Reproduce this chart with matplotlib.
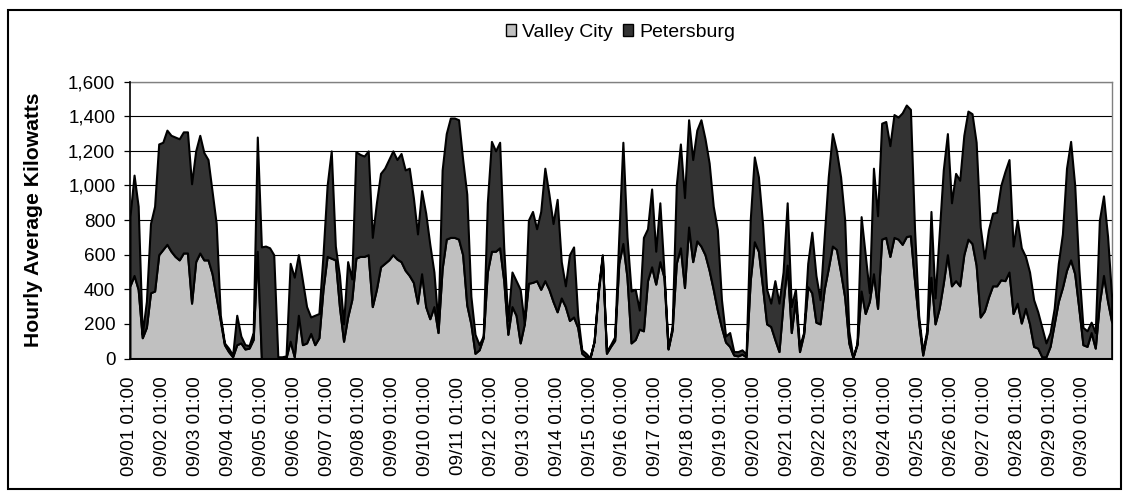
import numpy as np
import matplotlib
matplotlib.use("Agg")
import matplotlib.pyplot as plt
from matplotlib.patches import Patch, Rectangle
from matplotlib.ticker import FuncFormatter

plt.rcParams['font.family'] = ['Liberation Sans', 'DejaVu Sans']

# 3-hourly readings, one row per day (09/01 .. 09/30)
hours = np.arange(0, 720, 3)

valley_city = [
    420, 480, 400, 120, 180, 380, 390, 600,
    630, 660, 620, 590, 570, 610, 610, 320,
    560, 610, 570, 570, 490, 355, 220, 80,
    40, 10, 80, 90, 55, 60, 110, 620,
    0, 0, 0, 0, 0, 0, 5, 100,
    10, 250, 80, 90, 145, 80, 120, 400,
    590, 580, 570, 300, 100, 240, 340, 580,
    590, 590, 600, 300, 400, 530, 550, 570,
    600, 575, 560, 510, 480, 440, 320, 490,
    300, 230, 300, 150, 520, 690, 700, 700,
    690, 600, 310, 200, 30, 50, 120, 500,
    620, 620, 640, 450, 140, 300, 250, 90,
    200, 435, 440, 450, 400, 450, 400, 330,
    270, 350, 300, 220, 240, 180, 30, 10,
    5, 100, 380, 590, 30, 70, 105, 550,
    665, 470, 90, 110, 170, 160, 450, 530,
    430, 560, 470, 55, 165, 550, 640, 410,
    760, 560, 680, 650, 600, 510, 400, 280,
    180, 95, 70, 20, 15, 25, 10, 450,
    675, 620, 415, 200, 185, 110, 40, 320,
    540, 150, 340, 40, 140, 415, 380, 210,
    200, 400, 520, 650, 630, 500, 355, 90,
    5, 80, 390, 260, 330, 490, 290, 690,
    700, 590, 700, 690, 660, 705, 710, 450,
    210, 20, 145, 470, 200, 290, 435, 600,
    420, 450, 420, 600, 690, 665, 540, 240,
    275, 355, 420, 420, 455, 450, 500, 260,
    320, 205, 290, 200, 70, 60, 10, 10,
    70, 200, 330, 410, 510, 570, 490, 290,
    80, 70, 150, 60, 320, 480, 330, 210,
]

# top of the stack (Valley City + Petersburg)
stack_total = [
    820, 1060, 880, 140, 330, 780, 880, 1240,
    1250, 1320, 1290, 1280, 1270, 1310, 1310, 1010,
    1200, 1290, 1190, 1150, 965, 780, 250, 90,
    60, 20, 250, 130, 80, 75, 150, 1280,
    645, 650, 640, 600, 10, 10, 15, 550,
    470, 600, 450, 300, 240, 250, 260, 600,
    1000, 1200, 650, 480, 200, 560, 460, 1195,
    1180, 1170, 1200, 700, 900, 1070, 1100, 1150,
    1200, 1150, 1185, 1090, 1100, 930, 720, 970,
    840, 660, 500, 200, 1090, 1300, 1390, 1390,
    1380, 1150, 950, 360, 140, 80, 130, 900,
    1255, 1200, 1250, 640, 220, 500, 450, 400,
    200, 800, 850, 750, 850, 1100, 950, 780,
    920, 560, 420, 600, 645, 250, 50, 30,
    5, 100, 400, 600, 40, 80, 125, 700,
    1250, 705, 390, 400, 280, 700, 750, 980,
    620, 900, 510, 60, 185, 1000, 1240, 930,
    1380, 1150, 1320, 1380, 1270, 1130, 880, 745,
    340, 130, 150, 40, 40, 50, 25, 800,
    1165, 1050, 780, 400, 320, 450, 320, 500,
    900, 300, 400, 70, 150, 550, 730, 480,
    340, 700, 1050, 1300, 1200, 1050, 800, 160,
    5, 90, 820, 600, 380, 1100, 825, 1360,
    1370, 1230, 1410, 1395, 1420, 1465, 1440, 750,
    250, 40, 165, 850, 350, 720, 1090, 1300,
    900, 1070, 1030, 1290, 1430, 1415, 1250, 760,
    580, 745, 840, 845, 1000, 1080, 1150, 650,
    800, 640, 590, 500, 340, 270, 180, 90,
    150, 290, 550, 720, 1100, 1255, 1000, 520,
    180, 160, 210, 150, 800, 940, 705, 350,
]

series_names = ["Valley City", "Petersburg"]
day_labels = [f"09/{d:02d} 01:00" for d in range(1, 31)]

valley = np.array(valley_city)
petersburg = np.clip(np.array(stack_total) - valley, 0, None)

fig = plt.figure(figsize=(11.3, 4.93), dpi=100)
ax = fig.add_axes([0.1150, 0.2728, 0.8688, 0.5615])

colors = ["#C0C0C0", "#333333"]
ax.stackplot(hours, valley, petersburg, colors=colors,
             edgecolor="black", linewidth=1.5, zorder=3)

ax.set_xlim(0, hours[-1])
ax.set_ylim(0, 1600)
ax.set_yticks(range(0, 1601, 200))
ax.yaxis.set_major_formatter(FuncFormatter(lambda v, p: f"{int(v):,}"))
ax.grid(axis="y", color="black", linewidth=0.8, zorder=1)

ax.set_xticks(np.arange(0, 720, 24))
ax.set_xticklabels(day_labels, rotation=90, fontsize=13.6)
ax.tick_params(axis="x", length=0, pad=13)
ax.tick_params(axis="y", direction="out", length=4.5, width=0.9, pad=6,
               labelsize=13.6)

for side in ["top", "right"]:
    ax.spines[side].set_color("#808080")
    ax.spines[side].set_linewidth(1.0)
for side in ["left", "bottom"]:
    ax.spines[side].set_color("black")
    ax.spines[side].set_linewidth(1.2)
    ax.spines[side].set_zorder(5)

ax.set_ylabel("Hourly Average Kilowatts", fontsize=15.2, fontweight="bold")
ax.yaxis.set_label_coords(-0.089, 0.5)

handles = [Patch(facecolor=c, edgecolor="black", linewidth=1.0) for c in colors]
fig.legend(handles, series_names, loc="center", bbox_to_anchor=(0.549, 0.935),
           ncol=2, frameon=False, fontsize=14, handlelength=0.55,
           handleheight=0.55, handletextpad=0.3, columnspacing=0.5)

# outer chart border
fig.patches.append(Rectangle((8 / 1130, 1 - 489 / 493), 1113 / 1130, 479 / 493,
                             transform=fig.transFigure, fill=False,
                             edgecolor="black", linewidth=1.5))

fig.savefig("out.png", dpi=100)
